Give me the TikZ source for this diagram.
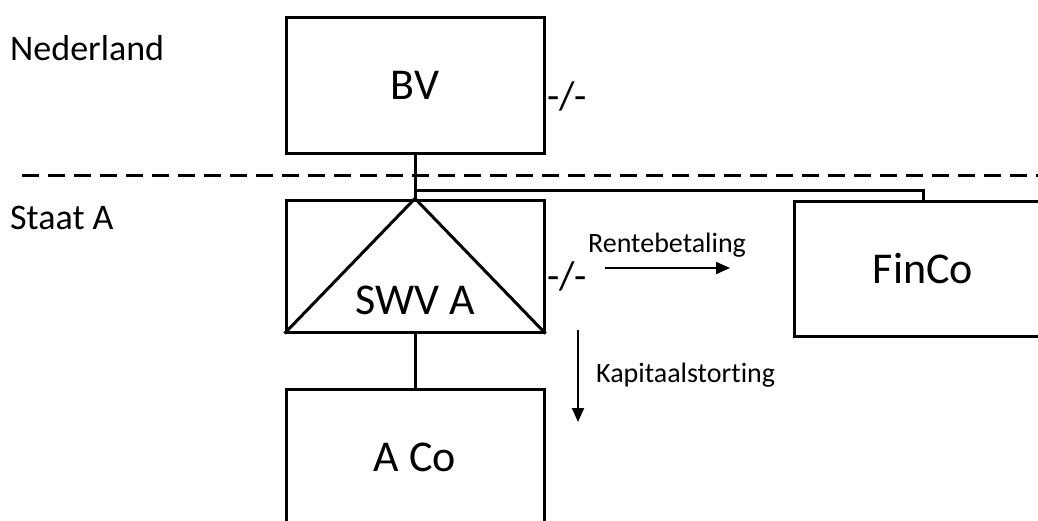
\documentclass[tikz,border=0pt]{standalone}
\usepackage{fontspec}
\setmainfont{Carlito}[Ligatures={NoCommon}]
\usetikzlibrary{arrows.meta,positioning}
\tikzset{
    entitybox/.style={draw, line width=3pt, minimum width=258pt, minimum height=#1, inner sep=0pt, font=\fontsize{44}{48}\selectfont},
    entitybox/.default=136pt,
    countrylabel/.style={anchor=west, inner sep=0pt, font=\fontsize{36}{40}\selectfont},
    flowlabel/.style={inner sep=0pt, font=\fontsize{28}{30}\selectfont},
    nodeduct/.style={inner sep=0pt, font=\fontsize{40}{44}\selectfont},
    flowarrow/.style={-{Triangle[length=14pt, width=12pt]}, line width=2pt},
    linkline/.style={line width=3pt}
}
\begin{document}
\begin{tikzpicture}[x=1pt, y=-1pt]
    \useasboundingbox (0,0) rectangle (1038,520);
    \clip (0,0) rectangle (1038,520);
    % landen
    \node[countrylabel] (nl) at (10,48) {Nederland};
    \node[countrylabel] (staata) at (10,218) {Staat A};
    \coordinate (borderl) at (22,175);
    \coordinate (borderr) at (1045,175);
    \draw[line width=3pt, dash pattern=on 17pt off 9pt] (borderl) -- (borderr);
    % entiteiten
    \node[entitybox] (bv) at (415,85) {BV};
    \node[entitybox=132pt] (swv) at (415,266) {};
    \node[entitybox=136pt] (aco) at (415,457) {A Co};
    \node[entitybox=135pt] (finco) at (923,268.5) {FinCo};
    \draw[line width=3pt] (swv.south west) -- (swv.north) -- (swv.south east);
    \node[font=\fontsize{44}{48}\selectfont, inner sep=0pt] (swvname) at (415,300) {SWV A};
    % lijnen
    \coordinate (split) at (bv.south |- 0,190);
    \draw[linkline] (bv.south) -- (swv.north);
    \draw[linkline] (split) -| (finco.north);
    \draw[linkline] (swv.south) -- (aco.north);
    % niet-aftrekbaar
    \node[nodeduct, anchor=west] (bvnd) at (547,96) {-/-};
    \node[nodeduct, anchor=west] (swvnd) at (547,276) {-/-};
    % stromen
    \coordinate (rentea) at (605,268);
    \coordinate (renteb) at (730,268);
    \draw[flowarrow] (rentea) -- (renteb);
    \node[flowlabel] (rente) at (667,245) {Rentebetaling};
    \coordinate (kapa) at (578,330);
    \coordinate (kapb) at (578,422);
    \draw[flowarrow] (kapa) -- (kapb);
    \node[flowlabel, anchor=west] (kap) at (596,375) {Kapitaalstorting};
\end{tikzpicture}
\end{document}
